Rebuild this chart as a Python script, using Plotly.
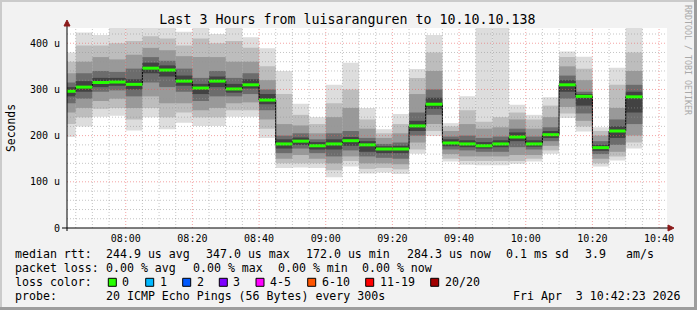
import plotly.graph_objects as go
import pandas as pd

# ---------------- data (5-minute steps, values in microseconds) ----------------
start_time = "2026-04-03 07:40:00"
step_minutes = 5
range_start = "2026-04-03 07:42:23"
range_end = "2026-04-03 10:42:23"

median = [296, 305, 315, 316, 311, 346, 342, 318, 303, 318, 301, 310, 277,
          182, 188, 178, 182, 189, 180, 171, 171, 221, 268, 184, 182, 178,
          182, 197, 182, 202, 310, 285, 174, 210, 284]
ping_min = [197, 220, 241, 243, 211, 240, 214, 228, 221, 221, 241, 241, 195,
            130, 131, 130, 110, 133, 118, 120, 117, 161, 199, 144, 137, 136,
            136, 139, 144, 161, 238, 209, 133, 146, 172]
ping_max = [380, 423, 418, 440, 440, 440, 440, 425, 440, 420, 440, 413, 389,
            340, 269, 240, 310, 358, 260, 214, 247, 344, 418, 227, 285, 440,
            440, 267, 245, 283, 382, 371, 218, 347, 440]
band2_lo = [225, 240, 258, 260, 235, 260, 240, 250, 240, 240, 255, 255, 215,
            140, 140, 140, 125, 145, 128, 130, 127, 170, 210, 150, 145, 145,
            145, 145, 150, 168, 248, 220, 140, 155, 185]
band2_hi = [360, 395, 395, 400, 405, 415, 410, 395, 410, 400, 405, 390, 350,
            290, 245, 225, 270, 300, 235, 205, 225, 325, 380, 220, 255, 230,
            240, 250, 235, 265, 370, 345, 210, 310, 380]
band3_lo = [250, 260, 275, 280, 260, 285, 270, 270, 255, 260, 270, 272, 235,
            150, 158, 150, 140, 155, 140, 140, 138, 185, 225, 160, 155, 155,
            155, 158, 158, 178, 262, 232, 150, 165, 200]
band3_hi = [335, 360, 370, 365, 375, 390, 385, 372, 370, 370, 360, 360, 320,
            225, 222, 205, 240, 260, 215, 195, 205, 290, 340, 210, 225, 215,
            218, 235, 215, 240, 350, 320, 200, 260, 340]
band4_lo = [270, 280, 295, 298, 285, 315, 305, 295, 275, 285, 285, 290, 255,
            162, 172, 162, 155, 168, 155, 152, 150, 200, 245, 170, 168, 165,
            165, 175, 170, 188, 280, 248, 160, 180, 225]
band4_hi = [315, 335, 340, 338, 345, 370, 362, 345, 325, 340, 325, 335, 300,
            200, 205, 192, 205, 210, 195, 182, 185, 250, 300, 198, 200, 195,
            198, 215, 198, 218, 330, 295, 188, 235, 310]
band5_lo = [285, 295, 305, 308, 300, 335, 328, 308, 290, 305, 293, 302, 268,
            172, 180, 170, 170, 178, 165, 162, 162, 210, 258, 177, 175, 172,
            175, 188, 176, 195, 295, 265, 167, 195, 250]
band5_hi = [305, 318, 325, 325, 322, 358, 352, 330, 312, 328, 312, 322, 290,
            192, 196, 186, 192, 197, 188, 177, 178, 232, 282, 192, 190, 186,
            190, 207, 190, 210, 320, 290, 180, 220, 295]

y_tick_vals = [0, 100, 200, 300, 400]
y_tick_text = ["0", "100 u", "200 u", "300 u", "400 u"]

title_text = "Last 3 Hours from luisaranguren to 10.10.10.138"
legend_rows = [
    ["median rtt:", "244.9 us avg", "347.0 us max", "172.0 us min",
     "284.3 us now", "0.1 ms sd", "3.9", "am/s"],
    ["packet loss:", "0.00 % avg", "0.00 % max", "0.00 % min", "0.00 % now"],
    ["probe:", "20 ICMP Echo Pings (56 Bytes) every 300s",
     "Fri Apr  3 10:42:23 2026"],
]
loss_labels = ["0", "1", "2", "3", "4-5", "6-10", "11-19", "20/20"]
loss_colors = ["#26ff00", "#00b8ff", "#0059ff", "#7e00ff", "#ff00ff",
               "#ff5500", "#ff0000", "#a10000"]

# ---------------- layout geometry (pixels) ----------------
W, H = 697, 310
ML, MR, MT, MB = 67, 30, 28, 82
PW, PH = W - ML - MR, H - MT - MB
Y_MAX = 433
MONO = "DejaVu Sans Mono"


def xp(px):
    return (px - ML) / PW


def yp(py):
    return (H - MB - py) / PH


starts = [pd.Timestamp(start_time) + pd.Timedelta(minutes=step_minutes * i)
          for i in range(len(median))]
step = pd.Timedelta(minutes=step_minutes)
centers = [s + step / 2 for s in starts]
width_ms = step_minutes * 60 * 1000

fig = go.Figure()

bands = [
    (ping_min, ping_max, "#dddddd"),
    (band2_lo, band2_hi, "#bdbdbd"),
    (band3_lo, band3_hi, "#999999"),
    (band4_lo, band4_hi, "#6c6c6c"),
    (band5_lo, band5_hi, "#424242"),
]
for lo, hi, col in bands:
    fig.add_trace(go.Bar(
        x=centers, base=lo, y=[h - l for l, h in zip(lo, hi)],
        width=width_ms, marker=dict(color=col, line=dict(width=0)),
        hoverinfo="skip", showlegend=False))

# black step line for the median
fig.add_trace(go.Scatter(
    x=starts + [starts[-1] + step], y=median + [median[-1]],
    mode="lines", line=dict(color="#000000", width=1, shape="hv"),
    hoverinfo="skip", showlegend=False))

# green median segments (0 % loss colour)
gx, gy = [], []
for s, m in zip(starts, median):
    gx += [s, s + step, None]
    gy += [m, m, None]
fig.add_trace(go.Scatter(
    x=gx, y=gy, mode="lines", line=dict(color=loss_colors[0], width=3),
    hoverinfo="skip", showlegend=False))

shapes = []
# grid drawn above the smoke (as rrdtool does)
minor_col = "rgba(150,150,150,0.55)"
major_col = "rgba(235,90,90,0.55)"
dash = "1px,2px"
for v in range(20, Y_MAX, 20):
    shapes.append(dict(type="line", xref="paper", yref="y", x0=0, x1=1,
                       y0=v, y1=v, layer="above",
                       line=dict(color=major_col if v % 100 == 0 else minor_col,
                                 width=1, dash=dash)))
t = pd.Timestamp(range_start).ceil("5min")
t_end = pd.Timestamp(range_end)
while t <= t_end:
    major = (t.minute % 20 == 0)
    shapes.append(dict(type="line", xref="x", yref="paper", x0=t, x1=t,
                       y0=0, y1=1, layer="above",
                       line=dict(color=major_col if major else minor_col,
                                 width=1, dash=dash)))
    t += step

# axes lines and arrows
axis_col = "#000000"
arrow_col = "#8b1a1a"
shapes.append(dict(type="line", xref="paper", yref="paper",
                   x0=xp(62), x1=xp(669), y0=yp(228), y1=yp(228),
                   line=dict(color=axis_col, width=1), layer="above"))
shapes.append(dict(type="line", xref="paper", yref="paper",
                   x0=xp(67), x1=xp(67), y0=yp(231), y1=yp(25),
                   line=dict(color=axis_col, width=1), layer="above"))
shapes.append(dict(type="path", xref="paper", yref="paper",
                   path=f"M {xp(64)} {yp(26)} L {xp(70)} {yp(26)} L {xp(67)} {yp(20)} Z",
                   fillcolor=arrow_col, line=dict(color=arrow_col, width=1),
                   layer="above"))
shapes.append(dict(type="path", xref="paper", yref="paper",
                   path=f"M {xp(668)} {yp(225)} L {xp(668)} {yp(231)} L {xp(674)} {yp(228)} Z",
                   fillcolor=arrow_col, line=dict(color=arrow_col, width=1),
                   layer="above"))

# outer 3D frame
shapes += [
    dict(type="rect", xref="paper", yref="paper", x0=xp(0), x1=xp(2),
         y0=yp(0), y1=yp(H), fillcolor="#cbcbcb", line=dict(width=0)),
    dict(type="rect", xref="paper", yref="paper", x0=xp(0), x1=xp(W),
         y0=yp(0), y1=yp(2), fillcolor="#cbcbcb", line=dict(width=0)),
    dict(type="rect", xref="paper", yref="paper", x0=xp(W - 3), x1=xp(W),
         y0=yp(0), y1=yp(H), fillcolor="#9d9d9d", line=dict(width=0)),
    dict(type="rect", xref="paper", yref="paper", x0=xp(0), x1=xp(W),
         y0=yp(H - 3), y1=yp(H), fillcolor="#9d9d9d", line=dict(width=0)),
]

annotations = []
LEG_FONT = dict(family=MONO, size=11.6, color="#000000")


def txt(text, px, py, **kw):
    d = dict(text=text, xref="paper", yref="paper", x=xp(px), y=yp(py),
             xanchor="left", yanchor="middle", showarrow=False,
             font=LEG_FONT, borderpad=0, borderwidth=0)
    d.update(kw)
    annotations.append(d)


row_x = [
    [16, 107, 207.3, 307.3, 407.7, 507.3, 586, 627.3],
    [16, 107.3, 194, 279.3, 363.3],
    [16, 107.3, 514],
]
row_y = [254.3, 268.3, 296]
for items, xs, y in zip(legend_rows, row_x, row_y):
    for s, x in zip(items, xs):
        txt(s, x - 1, y)

txt("loss color:", 15, 282.3)
box_x = [108.3, 145.7, 182.7, 219.3, 256, 307.7, 365.7, 430.7]
for lab, col, bx in zip(loss_labels, loss_colors, box_x):
    shapes.append(dict(type="rect", xref="paper", yref="paper",
                       x0=xp(bx), x1=xp(bx + 8), y0=yp(278.3), y1=yp(286.3),
                       fillcolor=col, line=dict(color="#000000", width=1)))
    txt(lab, bx + 14, 282.3)

annotations.append(dict(text="Seconds", xref="paper", yref="paper",
                        x=xp(11), y=yp(128), textangle=-90, showarrow=False,
                        xanchor="center", yanchor="middle",
                        font=dict(family=MONO, size=11.4, color="#000000")))
annotations.append(dict(text="RRDTOOL / TOBI OETIKER", xref="paper",
                        yref="paper", x=xp(688), y=yp(60), textangle=90,
                        showarrow=False, xanchor="center", yanchor="middle",
                        font=dict(family=MONO, size=8.3, color="#a9a9a9")))

fig.update_layout(
    width=W, height=H,
    margin=dict(l=ML, r=MR, t=MT, b=MB, pad=0),
    paper_bgcolor="#f2f2f2", plot_bgcolor="#ffffff",
    barmode="overlay", showlegend=False,
    title=dict(text=title_text, x=347.5 / W, y=1 - 19 / H, xref="container",
               yref="container", xanchor="center", yanchor="middle",
               font=dict(family=MONO, size=13.3, color="#000000")),
    xaxis=dict(range=[range_start, range_end], type="date",
               tickformat="%H:%M", dtick=20 * 60 * 1000,
               tick0="2026-04-03 08:00:00", showgrid=False, zeroline=False,
               showline=False, ticks="", ticklabelstandoff=3,
               tickfont=dict(family=MONO, size=10, color="#000000")),
    yaxis=dict(range=[0, Y_MAX], tickvals=y_tick_vals, ticktext=y_tick_text,
               showgrid=False, zeroline=False, showline=False, ticks="",
               ticklabelstandoff=6,
               tickfont=dict(family=MONO, size=10, color="#000000")),
    shapes=shapes, annotations=annotations,
)

fig.write_html("out.html")
